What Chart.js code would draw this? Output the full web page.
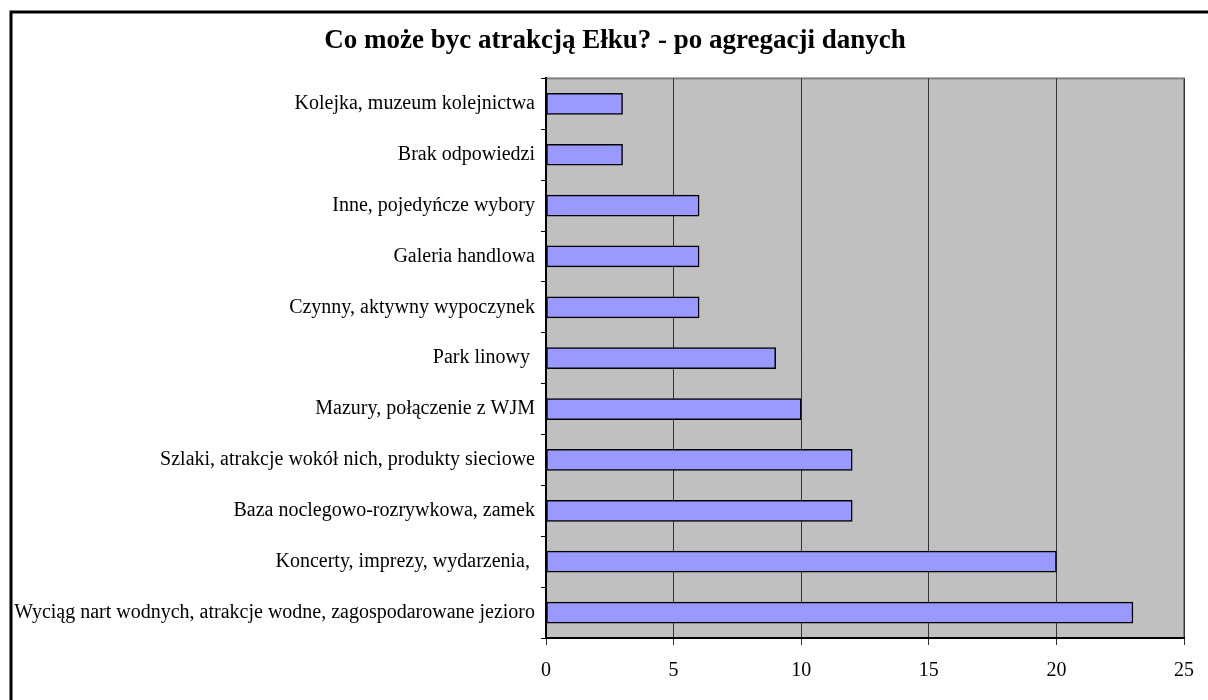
<!DOCTYPE html>
<html>
<head>
<meta charset="utf-8">
<script src="https://cdn.jsdelivr.net/npm/chart.js@4"></script>
<style>
  body { margin: 0; background: #fff; }
  canvas { display: block; }
</style>
</head>
<body>
<canvas id="chart" width="1208" height="700"></canvas>
<script>
// dane z wykresu (od góry do dołu)
const kategorie = [
    "Kolejka, muzeum kolejnictwa",
    "Brak odpowiedzi",
    "Inne, pojedyńcze wybory",
    "Galeria handlowa",
    "Czynny, aktywny wypoczynek",
    "Park linowy ",
    "Mazury, połączenie z WJM",
    "Szlaki, atrakcje wokół nich, produkty sieciowe",
    "Baza noclegowo-rozrywkowa, zamek",
    "Koncerty, imprezy, wydarzenia, ",
    "Wyciąg nart wodnych, atrakcje wodne, zagospodarowane jezioro"
];
const odpowiedzi = [3, 3, 6, 6, 6, 9, 10, 12, 12, 20, 23];
const osX = { min: 0, max: 25, krok: 5 };
const tytul = "Co może byc atrakcją Ełku? - po agregacji danych";

// tło, ramka i szary obszar wykresu
const tlo = {
    id: 'tlo',
    afterLayout(chart) {
        // tytuł w oryginale jest lekko przesunięty w prawo
        chart.titleBlock.left += 17;
        chart.titleBlock.right += 17;
    },
    beforeDraw(chart) {
        const c = chart.ctx, a = chart.chartArea;
        c.save();
        c.fillStyle = '#fff';
        c.fillRect(0, 0, chart.width, chart.height);
        c.strokeStyle = '#000';
        c.lineWidth = 3;
        c.beginPath();
        c.moveTo(11, chart.height);
        c.lineTo(11, 12);
        c.lineTo(chart.width, 12);
        c.stroke();
        c.fillStyle = '#C0C0C0';
        c.fillRect(a.left, a.top, a.right - a.left, a.bottom - a.top);
        c.strokeStyle = '#808080';
        c.lineWidth = 2;
        c.strokeRect(a.left, a.top, a.right - a.left, a.bottom - a.top);
        c.restore();
    }
};

new Chart(document.getElementById('chart'), {
    type: 'bar',
    data: {
        labels: kategorie,
        datasets: [{
            data: odpowiedzi,
            backgroundColor: '#9999FF',
            borderColor: '#000',
            borderWidth: 1.5,
            borderSkipped: false,
            barThickness: 21
        }]
    },
    options: {
        indexAxis: 'y',
        responsive: false,
        animation: false,
        layout: { padding: { left: 10, top: 12, right: 22, bottom: 17 } },
        plugins: {
            legend: { display: false },
            tooltip: { enabled: false },
            title: {
                display: true,
                text: tytul,
                color: '#000',
                font: { family: 'Liberation Serif', size: 27, weight: 'bold' },
                padding: { top: 13, bottom: 21 }
            }
        },
        scales: {
            x: {
                min: osX.min,
                max: osX.max,
                afterFit(scale) { scale.height = 45; },
                ticks: {
                    stepSize: osX.krok,
                    color: '#000',
                    padding: 14,
                    font: { family: 'Liberation Serif', size: 20 }
                },
                grid: { color: '#333', lineWidth: 1, tickLength: 7 },
                border: { color: '#000', width: 2 }
            },
            y: {
                afterFit(scale) { scale.width = 536; },
                ticks: {
                    autoSkip: false,
                    color: '#000',
                    padding: 6,
                    font: { family: 'Liberation Serif', size: 20 }
                },
                grid: { offset: true, drawOnChartArea: false, tickLength: 5, color: '#000' },
                border: { color: '#000', width: 2 }
            }
        }
    },
    plugins: [tlo]
});
</script>
</body>
</html>
